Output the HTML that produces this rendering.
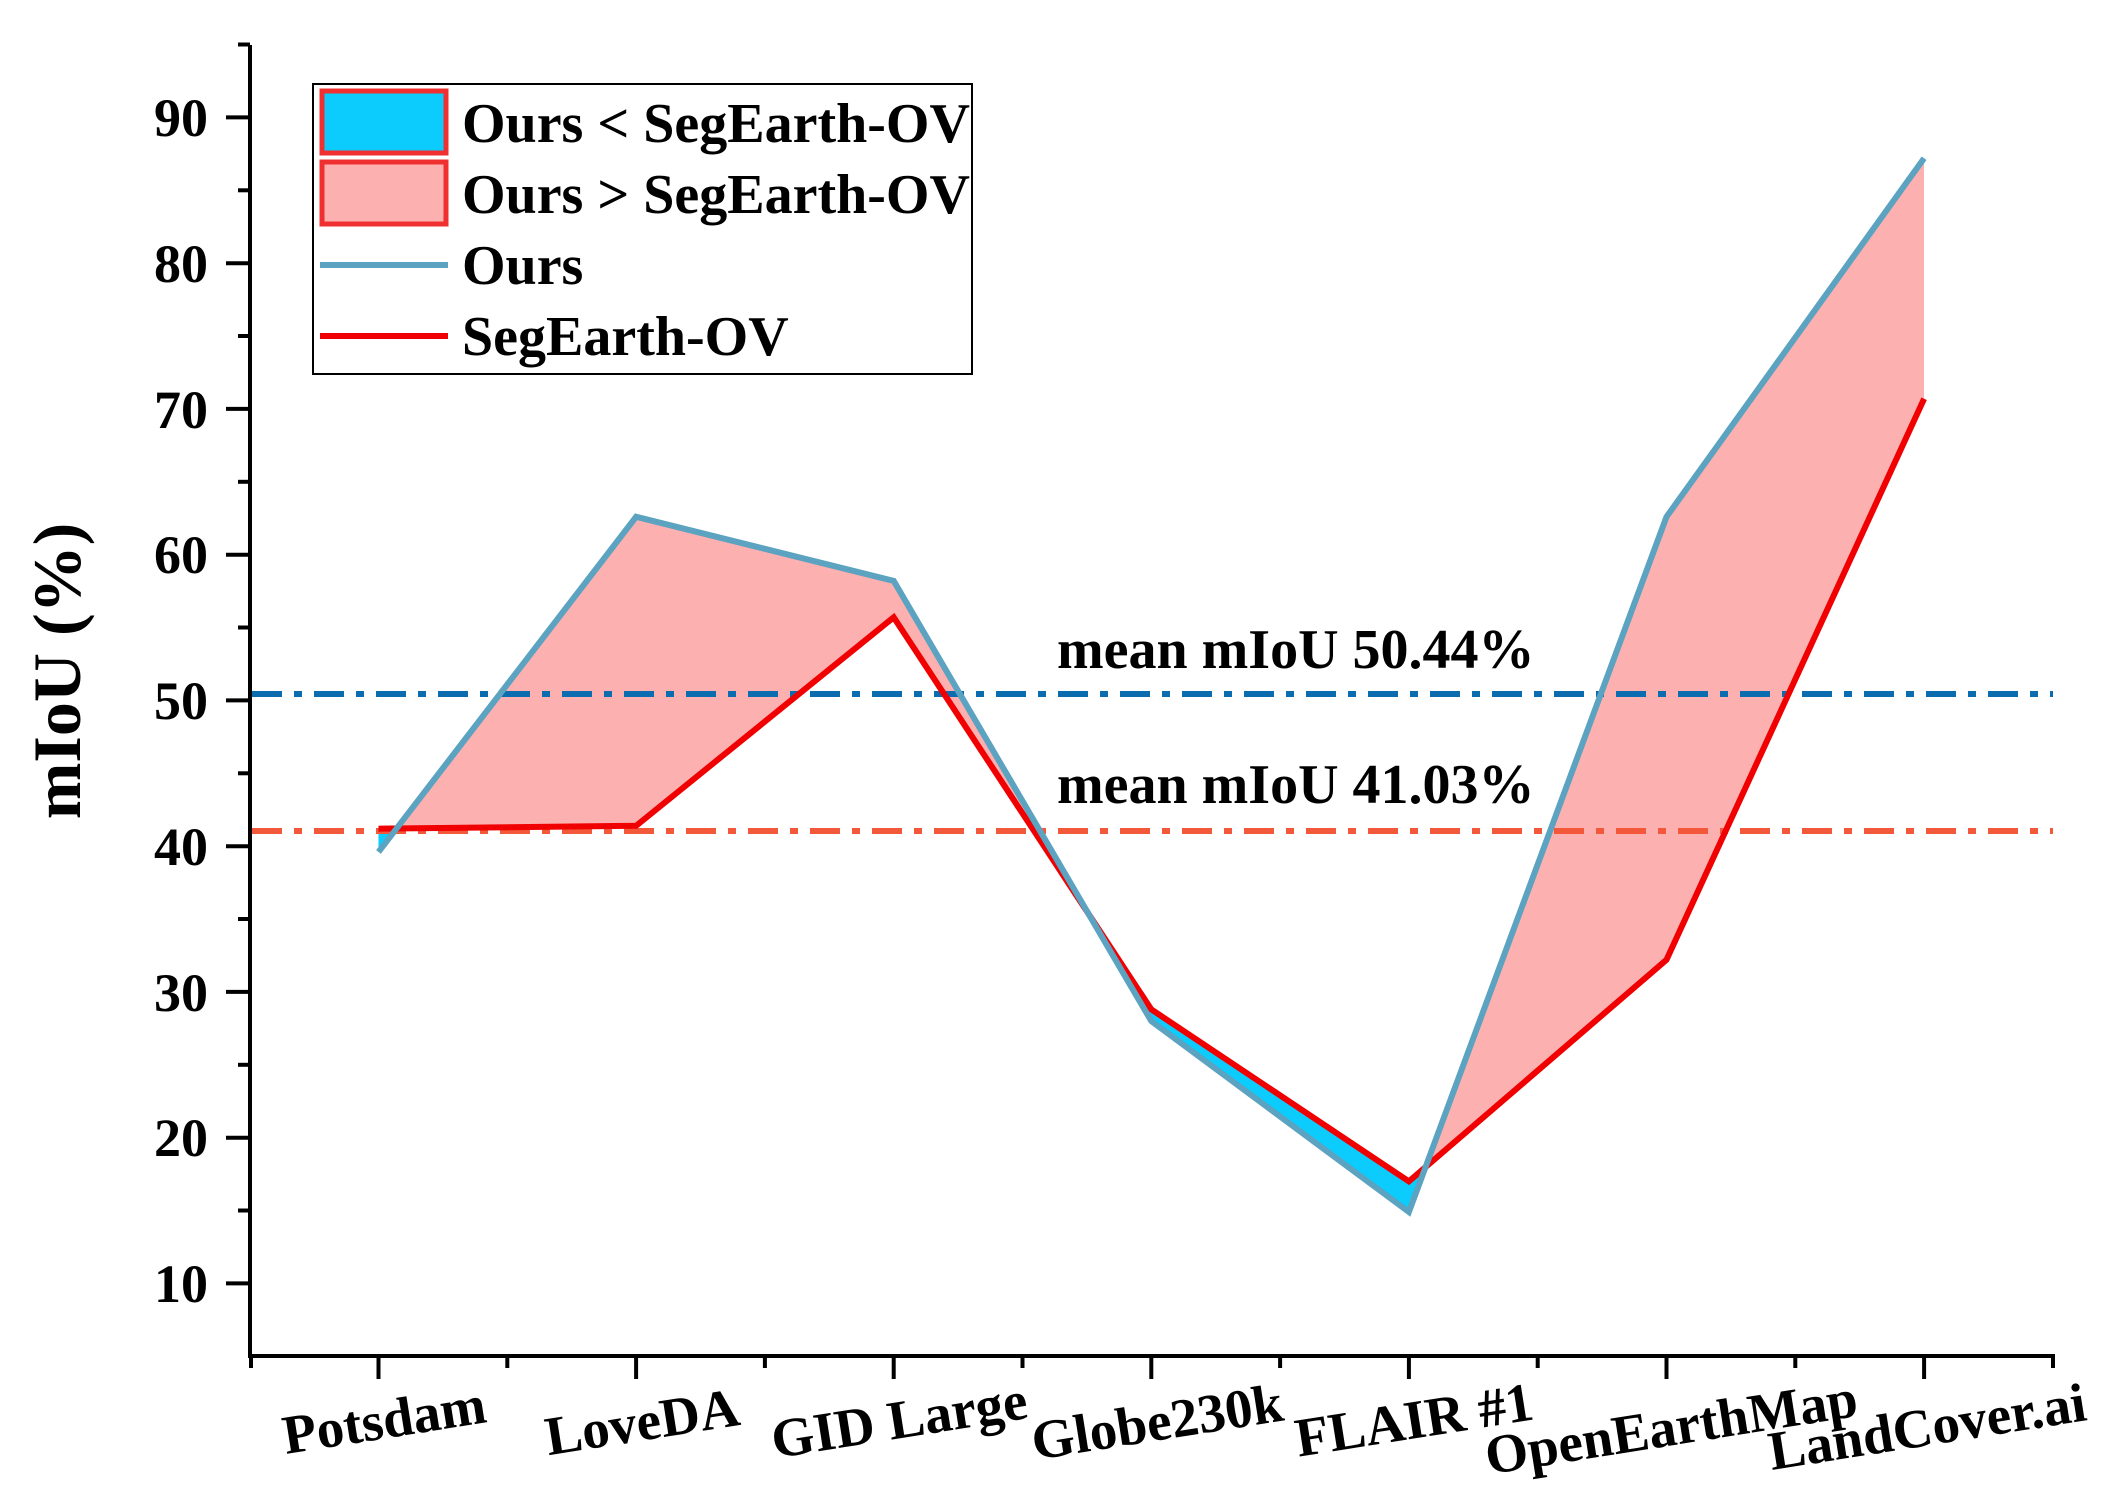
<!DOCTYPE html>
<html><head><meta charset="utf-8"><style>
html,body{margin:0;padding:0;background:#fff;}
svg{display:block;}
text{font-family:"Liberation Serif",serif;font-weight:bold;fill:#000;}
</style></head><body>
<svg width="2116" height="1501" viewBox="0 0 2116 1501" xmlns="http://www.w3.org/2000/svg">
<defs>
<clipPath id="above"><polygon points="378.5,828.7 636.1,825.8 893.7,617.3 1151.3,1009.4 1408.9,1181.4 1666.5,959.8 1924.1,398.7 1924.1,0 378.5,0"/></clipPath>
<clipPath id="below"><polygon points="378.5,828.7 636.1,825.8 893.7,617.3 1151.3,1009.4 1408.9,1181.4 1666.5,959.8 1924.1,398.7 1924.1,1500 378.5,1500"/></clipPath>
</defs>
<g>
<polygon clip-path="url(#above)" fill="#fdb0b0" points="378.5,852 636.1,516.8 893.7,580.9 1151.3,1021.1 1408.9,1212 1666.5,516.8 1924.1,158.2 1924.1,398.7 1666.5,959.8 1408.9,1181.4 1151.3,1009.4 893.7,617.3 636.1,825.8 378.5,828.7"/>
<polygon clip-path="url(#below)" fill="#0ccbfd" points="378.5,852 636.1,516.8 893.7,580.9 1151.3,1021.1 1408.9,1212 1666.5,516.8 1924.1,158.2 1924.1,398.7 1666.5,959.8 1408.9,1181.4 1151.3,1009.4 893.7,617.3 636.1,825.8 378.5,828.7"/>
</g>
<line x1="252" y1="694" x2="2053" y2="694" stroke="#0b6cb0" stroke-width="6" stroke-dasharray="30,12,8,12"/>
<line x1="252" y1="831" x2="2053" y2="831" stroke="#f4583a" stroke-width="6" stroke-dasharray="30,12,8,12"/>
<polyline fill="none" stroke="#f00000" stroke-width="6" stroke-linejoin="miter" points="378.5,828.7 636.1,825.8 893.7,617.3 1151.3,1009.4 1408.9,1181.4 1666.5,959.8 1924.1,398.7"/>
<polyline fill="none" stroke="#5ba3c0" stroke-width="6" stroke-linejoin="miter" points="378.5,852 636.1,516.8 893.7,580.9 1151.3,1021.1 1408.9,1212 1666.5,516.8 1924.1,158.2"/>
<text x="1057" y="668" font-size="56">mean mIoU 50.44%</text>
<text x="1057" y="803" font-size="56">mean mIoU 41.03%</text>
<!-- axes -->
<line x1="250" y1="45" x2="250" y2="1358" stroke="#000" stroke-width="4"/>
<line x1="248" y1="1356" x2="2055" y2="1356" stroke="#000" stroke-width="4"/>
<g stroke="#000" stroke-width="4">
<line x1="226" y1="117.4" x2="250" y2="117.4"/><line x1="226" y1="263.2" x2="250" y2="263.2"/>
<line x1="226" y1="408.9" x2="250" y2="408.9"/><line x1="226" y1="554.7" x2="250" y2="554.7"/>
<line x1="226" y1="700.4" x2="250" y2="700.4"/><line x1="226" y1="846.2" x2="250" y2="846.2"/>
<line x1="226" y1="991.9" x2="250" y2="991.9"/><line x1="226" y1="1137.7" x2="250" y2="1137.7"/>
<line x1="226" y1="1283.4" x2="250" y2="1283.4"/>
<line x1="238" y1="44.5" x2="250" y2="44.5"/><line x1="238" y1="190.3" x2="250" y2="190.3"/>
<line x1="238" y1="336" x2="250" y2="336"/><line x1="238" y1="481.8" x2="250" y2="481.8"/>
<line x1="238" y1="627.5" x2="250" y2="627.5"/><line x1="238" y1="773.3" x2="250" y2="773.3"/>
<line x1="238" y1="919" x2="250" y2="919"/><line x1="238" y1="1064.8" x2="250" y2="1064.8"/>
<line x1="238" y1="1210.5" x2="250" y2="1210.5"/>
<line x1="378.5" y1="1356" x2="378.5" y2="1379"/><line x1="636.1" y1="1356" x2="636.1" y2="1379"/>
<line x1="893.7" y1="1356" x2="893.7" y2="1379"/><line x1="1151.3" y1="1356" x2="1151.3" y2="1379"/>
<line x1="1408.9" y1="1356" x2="1408.9" y2="1379"/><line x1="1666.5" y1="1356" x2="1666.5" y2="1379"/>
<line x1="1924.1" y1="1356" x2="1924.1" y2="1379"/>
<line x1="251" y1="1356" x2="251" y2="1368"/><line x1="507.3" y1="1356" x2="507.3" y2="1368"/>
<line x1="764.9" y1="1356" x2="764.9" y2="1368"/><line x1="1022.5" y1="1356" x2="1022.5" y2="1368"/>
<line x1="1280.1" y1="1356" x2="1280.1" y2="1368"/><line x1="1537.7" y1="1356" x2="1537.7" y2="1368"/>
<line x1="1795.3" y1="1356" x2="1795.3" y2="1368"/><line x1="2053" y1="1356" x2="2053" y2="1368"/>
</g>
<g font-size="54" text-anchor="end">
<text x="208" y="136">90</text><text x="208" y="282">80</text><text x="208" y="428">70</text>
<text x="208" y="573">60</text><text x="208" y="719">50</text><text x="208" y="865">40</text>
<text x="208" y="1011">30</text><text x="208" y="1156">20</text><text x="208" y="1302">10</text>
</g>
<text transform="translate(80,671) rotate(-90)" font-size="68" text-anchor="middle">mIoU (%)</text>
<g font-size="55" text-anchor="middle">
<text transform="translate(387,1438) rotate(-9)">Potsdam</text>
<text transform="translate(645,1440) rotate(-9)">LoveDA</text>
<text transform="translate(902,1438) rotate(-9)">GID Large</text>
<text transform="translate(1160,1440) rotate(-9)">Globe230k</text>
<text transform="translate(1417,1438) rotate(-9)">FLAIR #1</text>
<text transform="translate(1674,1445) rotate(-9)">OpenEarthMap</text>
<text transform="translate(1930,1445) rotate(-9)">LandCover.ai</text>
</g>
<!-- legend -->
<rect x="313" y="84" width="659" height="290" fill="#fff" stroke="#000" stroke-width="2"/>
<rect x="322" y="91" width="124" height="62" fill="#0ccbfd" stroke="#f03030" stroke-width="5"/>
<rect x="322" y="162" width="124" height="62" fill="#fdb0b0" stroke="#f03030" stroke-width="5"/>
<line x1="320" y1="265" x2="448" y2="265" stroke="#5ba3c0" stroke-width="6"/>
<line x1="320" y1="336" x2="448" y2="336" stroke="#f00000" stroke-width="6"/>
<g font-size="56">
<text x="462" y="142">Ours &lt; SegEarth-OV</text>
<text x="462" y="213">Ours &gt; SegEarth-OV</text>
<text x="462" y="284">Ours</text>
<text x="462" y="355">SegEarth-OV</text>
</g>
</svg>
</body></html>
